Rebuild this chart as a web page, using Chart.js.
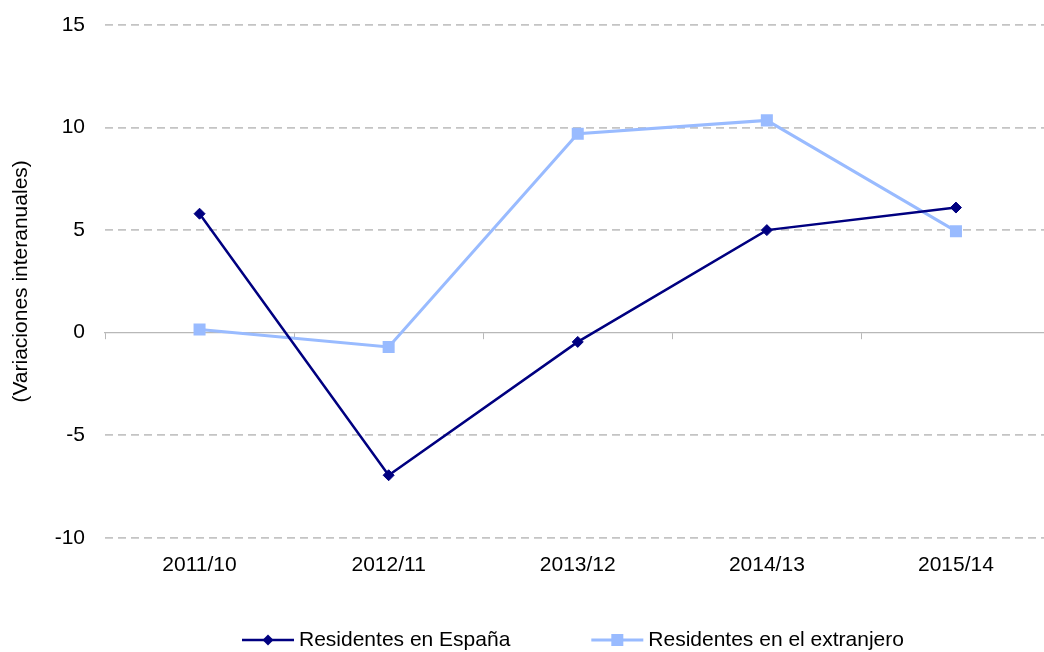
<!DOCTYPE html>
<html>
<head>
<meta charset="utf-8">
<script src="https://cdn.jsdelivr.net/npm/chart.js@4/dist/chart.umd.min.js"></script>
<style>
  html, body { margin: 0; padding: 0; background: #fff; overflow: hidden; }
  #c { display: block; }
</style>
</head>
<body>
<canvas id="c" width="1059" height="652"></canvas>
<script>
const categories = ['2011/10', '2012/11', '2013/12', '2014/13', '2015/14'];
const residentesEspana = [5.8, -6.95, -0.45, 5.0, 6.1];
const residentesExtranjero = [0.15, -0.7, 9.7, 10.35, 4.95];
const seriesNames = ['Residentes en España', 'Residentes en el extranjero'];
const yTitle = '(Variaciones interanuales)';
const yMin = -10, yMax = 15, yStep = 5;

const FONT = "'Liberation Sans', Arial, Helvetica, sans-serif";
const NAVY = '#000080';
const LIGHT = '#99bbff';
const GRID = '#c4c4c4';
const ZERO = '#b8b8b8';

const legendPlugin = {
  id: 'lineLegend',
  afterDraw(chart) {
    const ctx = chart.ctx;
    const y = chart.height - 12;
    const lineLen = 52, textGap = 5, itemGap = 81;
    let x = 242;
    ctx.save();
    ctx.font = '21px ' + FONT;
    ctx.textBaseline = 'middle';
    ctx.textAlign = 'left';
    chart.data.datasets.forEach(ds => {
      ctx.strokeStyle = ds.borderColor;
      ctx.lineWidth = ds.borderWidth;
      ctx.beginPath();
      ctx.moveTo(x, y);
      ctx.lineTo(x + lineLen, y);
      ctx.stroke();
      ctx.fillStyle = ds.pointBackgroundColor;
      ctx.beginPath();
      const r = ds.pointRadius;
      const cx = x + lineLen / 2;
      if (ds.pointStyle === 'rect') {
        const s = r * Math.SQRT1_2;
        ctx.rect(cx - s, y - s, 2 * s, 2 * s);
      } else {
        ctx.moveTo(cx, y - r);
        ctx.lineTo(cx + r, y);
        ctx.lineTo(cx, y + r);
        ctx.lineTo(cx - r, y);
        ctx.closePath();
      }
      ctx.fill();
      ctx.fillStyle = '#000';
      ctx.fillText(ds.label, x + lineLen + textGap, y);
      x += lineLen + textGap + ctx.measureText(ds.label).width + itemGap;
    });
    ctx.restore();
  }
};

new Chart(document.getElementById('c'), {
  type: 'line',
  data: {
    labels: categories,
    datasets: [
      {
        label: seriesNames[0],
        data: residentesEspana,
        borderColor: NAVY,
        backgroundColor: NAVY,
        pointBackgroundColor: NAVY,
        pointBorderColor: NAVY,
        pointBorderWidth: 1,
        borderWidth: 2.5,
        pointStyle: 'rectRot',
        pointRadius: 5.5,
        tension: 0
      },
      {
        label: seriesNames[1],
        data: residentesExtranjero,
        borderColor: LIGHT,
        backgroundColor: LIGHT,
        pointBackgroundColor: LIGHT,
        pointBorderColor: LIGHT,
        pointBorderWidth: 0,
        borderWidth: 3,
        pointStyle: 'rect',
        pointRadius: 8.5,
        tension: 0
      }
    ]
  },
  options: {
    responsive: false,
    maintainAspectRatio: false,
    animation: false,
    events: [],
    layout: { padding: { left: 5, right: 0, top: 25, bottom: 59 } },
    plugins: {
      legend: { display: false },
      tooltip: { enabled: false }
    },
    scales: {
      x: {
        type: 'category',
        offset: true,
        grid: { display: false, drawTicks: false },
        border: { display: false },
        ticks: { color: '#000', font: { family: FONT, size: 21 }, padding: 15, maxRotation: 0 }
      },
      x2: {
        type: 'category',
        offset: true,
        position: { y: 0 },
        grid: { display: true, drawOnChartArea: false, drawTicks: true, tickLength: 6, color: ZERO, offset: true, lineWidth: 1 },
        border: { display: true, color: ZERO, width: 1.2 },
        ticks: { display: false }
      },
      y: {
        min: yMin,
        max: yMax,
        afterFit: s => { s.width = 100; s.paddingTop = 12; s.paddingBottom = 12; },
        ticks: { stepSize: yStep, color: '#000', font: { family: FONT, size: 21 }, padding: 20 },
        grid: {
          drawTicks: false,
          lineWidth: 1.8,
          color: c => (c.tick && c.tick.value === 0) ? 'rgba(0,0,0,0)' : GRID
        },
        border: { display: false, dash: [8, 5] },
        title: { display: true, text: yTitle, color: '#000', font: { family: FONT, size: 21 }, padding: { top: 4, bottom: 4 } }
      }
    }
  },
  plugins: [legendPlugin]
});
</script>
</body>
</html>
